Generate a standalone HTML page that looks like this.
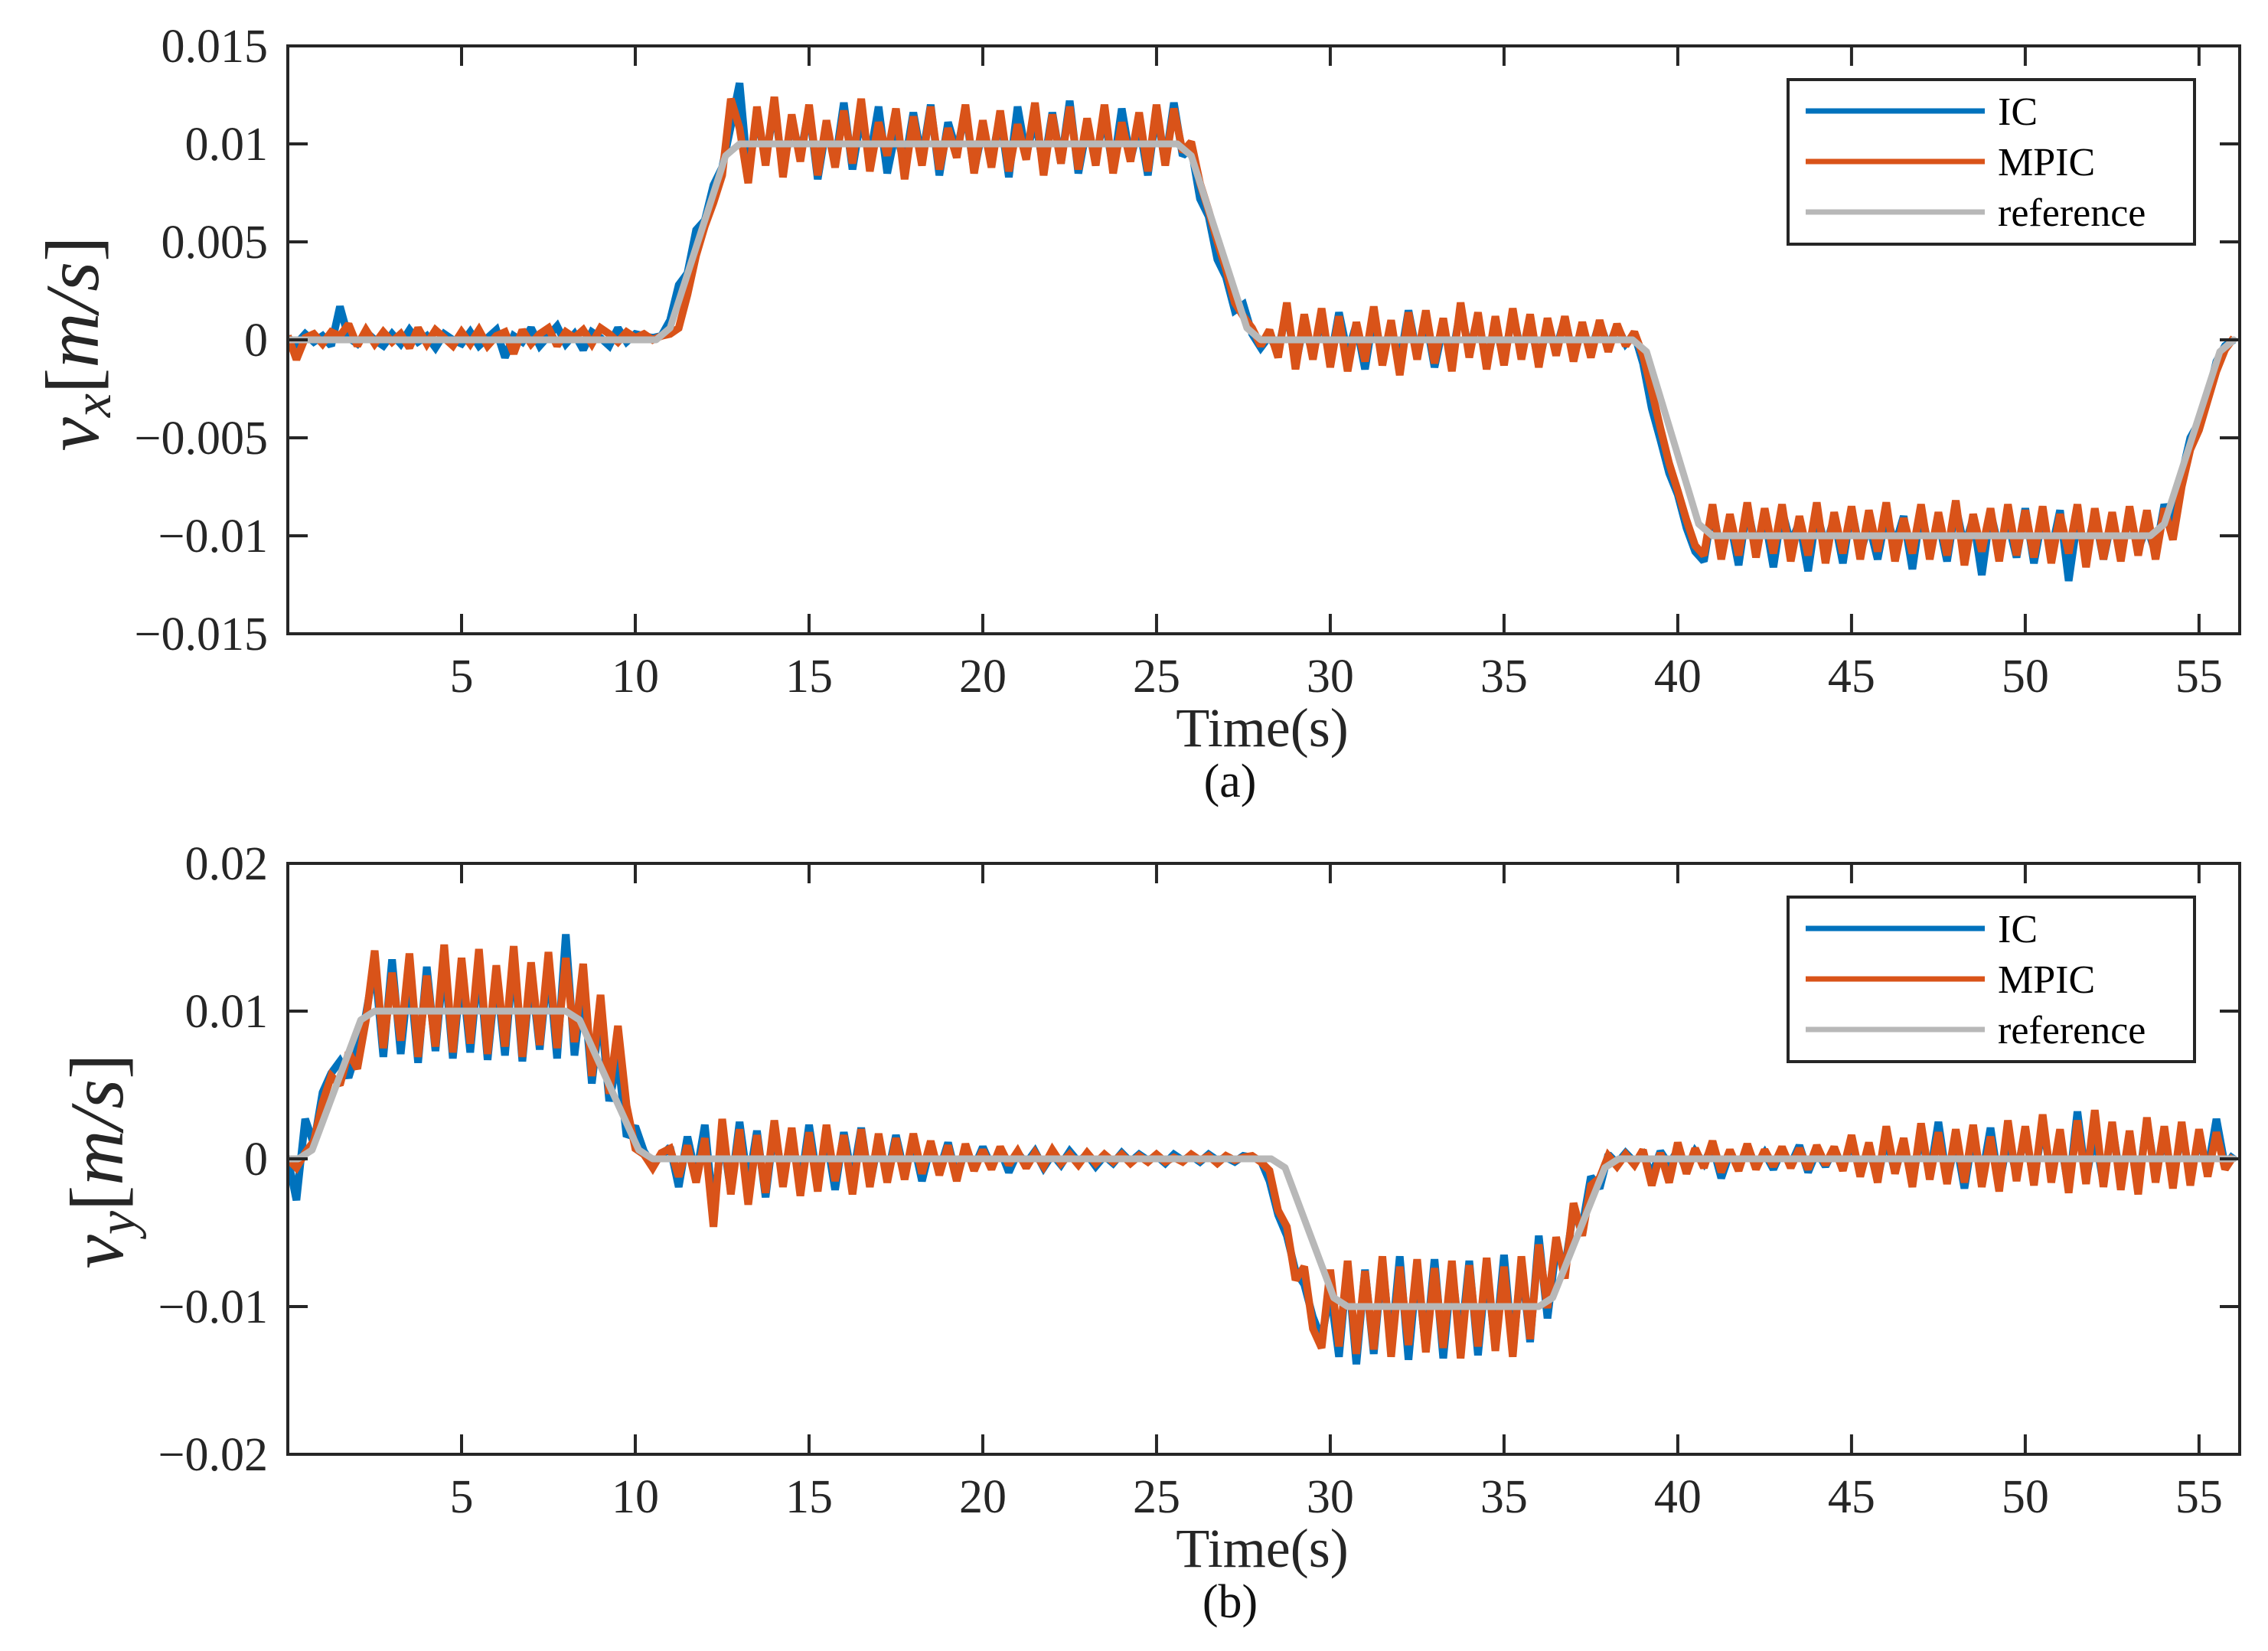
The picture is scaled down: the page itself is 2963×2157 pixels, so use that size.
<!DOCTYPE html>
<html><head><meta charset="utf-8"><style>
html,body{margin:0;padding:0;background:#fff;}
svg{display:block;font-family:"Liberation Serif",serif;}
</style></head><body>
<svg id="fig" width="2963" height="2157" viewBox="0 0 2963 2157" xmlns="http://www.w3.org/2000/svg"></svg>
<script>
// ---- data (velocities in units of 1e-3 m/s, sampled every 0.25 s) ----
const sampleDt = 0.25;
const xTickValues = [5,10,15,20,25,30,35,40,45,50,55];
const xTickLabels = ["5","10","15","20","25","30","35","40","45","50","55"];
const seriesNames = ["IC","MPIC","reference"];

const vxTickValues = [15,10,5,0,-5,-10,-15];
const vxTickLabels = ["0.015","0.01","0.005","0","\u22120.005","\u22120.01","\u22120.015"];
const vyTickValues = [20,10,0,-10,-20];
const vyTickLabels = ["0.02","0.01","0","\u22120.01","\u22120.02"];

const vxRefTimes = [0,10.6,11.0,12.6,13.0,25.6,26.0,27.6,28.0,38.7,39.1,40.6,41.0,53.6,54.0,55.6,56];
const vxRefValues = [0,0,0.6,9.4,10,10,9.4,0.6,0,0,-0.6,-9.4,-10,-10,-9.4,-0.6,0];
const vyRefTimes = [0,0.3,0.7,2.1,2.5,8.0,8.4,10.1,10.5,28.3,28.7,30.1,30.5,36.0,36.4,37.9,38.3,56];
const vyRefValues = [0,0,0.6,9.4,10,10,9.4,0.6,0,0,-0.6,-9.4,-10,-10,-9.4,-0.6,0,0];

const vxIC = [0.1,-0.2,0.3,-0.1,0.2,-0.3,1.7,0.1,-0.2,0.4,
0.0,-0.3,0.3,-0.2,0.5,-0.1,0.2,-0.4,0.3,0.0,
-0.2,0.4,-0.3,0.1,0.5,-0.9,0.2,-0.1,0.6,-0.3,
0.2,0.7,-0.2,0.3,-0.5,0.4,0.1,-0.3,0.6,-0.1,
0.3,0.2,0.1,0.2,1.0,2.8,3.4,5.6,6.1,7.9,
8.8,10.9,13.1,8.3,11.6,9.1,12.0,8.6,11.2,9.4,
11.8,8.2,10.9,9.0,12.1,8.7,11.4,9.3,11.9,8.5,
10.7,8.9,11.6,9.2,12.0,8.4,11.1,9.6,11.7,8.6,
10.8,9.1,11.5,8.3,11.9,9.4,11.3,8.8,11.6,9.0,
12.2,8.5,10.9,9.3,11.4,8.7,11.8,9.2,11.0,8.4,
11.7,9.0,12.1,9.4,9.8,7.2,6.3,4.1,3.2,1.5,
1.8,0.3,-0.4,0.2,-0.6,1.6,-1.3,0.9,-0.8,1.2,
-1.1,1.4,-0.7,0.8,-1.5,1.3,-0.9,0.6,-1.2,1.5,
-0.8,1.1,-1.4,0.7,-1.0,1.6,-0.6,1.2,-1.3,0.9,
-1.1,1.4,-0.7,1.0,-1.2,0.8,-0.5,1.1,-0.9,0.6,
-0.6,0.9,-0.4,0.7,-0.2,0.3,-1.2,-3.5,-5.1,-6.8,
-7.9,-9.6,-10.8,-11.3,-8.6,-10.9,-9.2,-11.5,-8.5,-10.7,
-9.0,-11.6,-8.7,-10.4,-9.3,-11.8,-8.8,-10.6,-9.1,-11.4,
-8.6,-10.9,-9.4,-11.2,-8.9,-10.5,-9.0,-11.7,-8.7,-10.8,
-9.2,-11.3,-8.5,-10.6,-9.1,-12.0,-8.8,-10.7,-9.3,-11.1,
-8.6,-11.4,-9.0,-10.8,-8.7,-12.3,-9.2,-10.9,-8.9,-11.2,
-9.1,-11.0,-8.8,-10.7,-9.5,-10.9,-8.4,-9.6,-6.9,-5.0,
-4.2,-2.9,-1.1,-0.3,0.0];
const vxMPIC = [0.2,-1.0,0.1,0.3,-0.2,0.4,0.2,0.8,-0.3,0.5,
-0.2,0.4,-0.1,0.3,-0.4,0.6,-0.2,0.5,0.1,-0.3,
0.4,-0.2,0.5,-0.3,0.2,0.4,-0.7,0.5,-0.2,0.3,
0.6,-0.3,0.4,0.1,0.5,-0.2,0.6,0.3,-0.1,0.4,
0.1,0.3,0.0,0.2,0.3,0.6,2.3,4.3,5.8,7.0,
8.4,12.3,10.8,8.0,11.9,8.9,12.4,8.3,11.5,9.1,
12.0,8.4,11.2,8.8,11.7,9.0,12.3,8.6,11.1,9.4,
11.8,8.2,11.4,8.9,11.9,8.7,10.8,9.3,12.0,8.5,
11.2,8.8,11.7,8.6,11.0,9.2,12.1,8.4,11.5,9.0,
11.9,8.7,11.3,8.9,12.0,8.5,11.1,9.1,11.6,8.6,
12.0,8.9,11.8,9.6,10.1,8.0,6.6,5.0,3.6,1.9,
1.2,0.6,-0.3,0.5,-0.9,1.9,-1.5,1.3,-1.0,1.6,
-1.4,1.2,-1.6,0.9,-1.1,1.7,-1.3,1.0,-1.8,1.4,
-1.0,1.5,-1.2,1.1,-1.6,1.9,-0.9,1.4,-1.5,1.2,
-1.3,1.6,-1.0,1.3,-1.4,1.1,-0.8,1.2,-1.1,0.9,
-0.9,1.0,-0.6,0.8,-0.3,0.4,-0.8,-2.6,-4.5,-6.3,
-7.7,-9.2,-10.5,-11.0,-8.4,-11.2,-8.9,-11.0,-8.3,-11.1,
-8.6,-10.9,-8.4,-11.3,-9.0,-11.0,-8.3,-11.4,-8.8,-10.9,
-8.5,-11.2,-8.7,-10.8,-8.3,-11.3,-9.1,-10.9,-8.4,-11.2,
-8.8,-11.0,-8.2,-11.5,-8.9,-10.8,-8.6,-11.3,-8.4,-11.0,
-8.7,-11.1,-8.5,-11.4,-8.9,-10.9,-8.4,-11.6,-8.6,-11.2,
-8.8,-11.3,-8.5,-11.0,-8.7,-11.2,-8.6,-10.2,-7.5,-5.6,
-4.6,-3.1,-1.6,-0.5,0.1];
const vyIC = [0.0,-2.8,2.7,1.0,4.5,5.8,6.6,5.5,7.4,9.8,
13.2,6.9,13.5,7.1,12.8,6.5,13.0,7.3,13.6,6.8,
12.9,7.2,13.4,6.7,12.6,7.0,13.8,6.6,12.7,7.4,
13.3,6.8,15.2,7.0,12.0,5.1,10.2,3.9,6.8,1.5,
2.2,0.5,-0.4,0.2,0.8,-1.9,1.5,-1.2,2.3,-3.6,
1.8,-2.2,2.5,-1.8,1.9,-2.6,2.2,-1.5,1.7,-2.0,
2.3,-1.6,1.5,-2.1,1.8,-1.4,2.1,-1.8,1.3,-1.2,
1.6,-1.0,1.2,-1.5,0.9,-0.8,1.1,-1.3,0.7,-0.6,
0.8,-0.5,0.6,-0.9,0.4,-0.3,0.5,-0.6,0.3,-0.4,
0.5,-0.2,0.3,-0.5,0.2,-0.3,0.4,-0.2,0.3,-0.1,
0.2,-0.3,0.3,-0.1,0.2,-0.2,0.3,-0.1,0.1,-0.2,
0.2,0.1,-0.1,-1.5,-3.8,-5.2,-7.6,-8.5,-10.7,-12.2,
-8.9,-13.4,-7.1,-13.9,-7.5,-13.2,-7.0,-12.8,-6.6,-13.6,
-7.3,-12.9,-6.8,-13.5,-7.4,-12.6,-6.9,-13.3,-7.2,-12.8,
-6.5,-13.1,-7.0,-12.4,-5.2,-10.8,-6.0,-7.4,-3.5,-4.6,
-1.2,-2.0,0.3,-0.3,0.4,-0.2,0.3,-1.1,0.5,-0.4,
0.6,-0.8,0.5,-0.3,0.9,-1.3,0.4,-0.6,0.8,-0.5,
0.4,-0.7,0.6,-0.4,0.9,-0.9,0.5,-0.5,0.7,-0.6,
1.2,-1.0,0.8,-1.4,1.5,-0.9,1.1,-1.6,1.8,-1.2,
2.5,-1.5,1.3,-2.0,1.7,-1.3,2.1,-1.8,1.4,-1.1,
1.9,-1.6,2.4,-1.2,1.6,-2.1,3.2,-1.4,1.8,-1.7,
2.2,-1.5,1.4,-1.9,2.6,-1.2,1.7,-1.6,2.0,-1.3,
1.5,-0.8,2.7,-0.5,0.3];
const vyMPIC = [0.0,-0.6,0.4,1.2,3.8,5.6,5.0,7.2,6.1,9.4,
14.1,7.5,12.6,8.0,13.9,6.9,12.4,7.6,14.5,7.2,
13.6,7.8,14.2,7.1,13.1,7.6,14.4,6.9,13.3,7.7,
14.0,7.5,13.6,7.9,13.2,5.6,11.1,4.4,9.0,3.6,
0.7,0.3,-0.6,0.4,0.7,-1.2,0.9,-1.6,1.4,-4.6,
2.7,-2.4,2.0,-3.1,1.6,-2.3,2.6,-1.9,2.1,-2.5,
1.8,-2.2,2.3,-1.5,1.6,-2.4,2.0,-1.9,1.7,-1.6,
1.4,-1.4,1.7,-1.0,1.2,-1.1,0.9,-1.5,1.0,-0.8,
0.6,-0.7,0.8,-0.4,0.5,-0.6,0.4,-0.5,0.6,-0.3,
0.3,-0.4,0.4,-0.3,0.3,-0.2,0.3,-0.3,0.2,-0.2,
0.3,-0.2,0.1,-0.2,0.3,-0.1,0.2,-0.3,0.2,-0.1,
0.1,0.2,-0.2,-0.8,-3.5,-4.6,-8.2,-7.3,-11.5,-12.8,
-7.5,-12.7,-6.9,-13.2,-7.6,-12.9,-6.6,-13.4,-7.3,-12.6,
-6.8,-13.1,-7.4,-12.8,-6.9,-13.5,-7.2,-12.7,-6.7,-13.0,
-7.3,-13.4,-6.6,-12.2,-5.8,-10.1,-5.3,-8.1,-3.0,-5.2,
-1.8,-1.3,0.2,-0.5,0.3,-0.4,0.6,-1.8,0.4,-1.6,
1.1,-1.0,0.7,-0.6,1.2,-0.9,0.6,-0.8,1.0,-0.7,
0.6,-0.5,0.8,-0.6,0.7,-0.7,0.9,-0.4,0.8,-0.8,
1.6,-1.2,1.1,-1.6,2.2,-1.0,1.4,-1.9,2.4,-1.4,
1.8,-1.7,2.0,-1.6,2.3,-1.9,1.5,-2.2,2.6,-1.5,
2.2,-1.8,3.0,-1.6,2.0,-2.3,2.6,-1.7,3.3,-1.9,
2.5,-2.1,1.9,-2.4,2.8,-1.6,2.2,-2.0,2.5,-1.8,
2.0,-1.2,1.8,-0.7,0.2];

// ---- drawing ----
const NS = "http://www.w3.org/2000/svg";
const svg = document.getElementById("fig");
const AX = "#262626", BLUE = "#0072BD", ORANGE = "#D95319", GRAY = "#B8B8B8";
const X0 = 376, X1 = 2926, XMAX = 56.17;

function mk(tag, attrs, parent) {
  const e = document.createElementNS(NS, tag);
  for (const k in attrs) e.setAttribute(k, attrs[k]);
  (parent || svg).appendChild(e);
  return e;
}
function xScale(t) { return X0 + (t / XMAX) * (X1 - X0); }

function panel(cfg) {
  const g = mk("g", {});
  
  
  const yScale = v => cfg.top + (cfg.ymax - v) / (cfg.ymax - cfg.ymin) * (cfg.bottom - cfg.top);
  const clipId = cfg.name + "-clip";
  const cp = mk("clipPath", {id: clipId}, g);
  mk("rect", {x: X0, y: cfg.top, width: X1 - X0, height: cfg.bottom - cfg.top}, cp);
  const plot = mk("g", {"clip-path": "url(#" + clipId + ")"}, g);
  
  

  function sampled(arr, color, w, nm) {
    const pts = arr.map((v, i) => xScale(i * sampleDt).toFixed(1) + "," + yScale(v).toFixed(1)).join(" ");
    const pl = mk("polyline", {points: pts, fill: "none", stroke: color, "stroke-width": w, "stroke-linejoin": "miter", "stroke-miterlimit": 2}, plot);
    
    
  }
  sampled(cfg.ic, BLUE, 10, "ic-line");
  sampled(cfg.mpic, ORANGE, 10, "mpic-line");
  const rp = cfg.refT.map((t, i) => xScale(t).toFixed(1) + "," + yScale(cfg.refV[i]).toFixed(1)).join(" ");
  const rl = mk("polyline", {points: rp, fill: "none", stroke: GRAY, "stroke-width": 9, "stroke-linejoin": "round", "stroke-linecap": "round"}, plot);
  
  

  const box = mk("rect", {x: X0, y: cfg.top, width: X1 - X0, height: cfg.bottom - cfg.top, fill: "none", stroke: AX, "stroke-width": 4}, g);
  
  
  xTickValues.forEach((t, i) => {
    const x = xScale(t);
    mk("line", {x1: x, y1: cfg.bottom, x2: x, y2: cfg.bottom - 26, stroke: AX, "stroke-width": 4}, g);
    mk("line", {x1: x, y1: cfg.top, x2: x, y2: cfg.top + 26, stroke: AX, "stroke-width": 4}, g);
    const tx = mk("text", {x: x, y: cfg.bottom + 76, "text-anchor": "middle", "font-size": 62, fill: AX}, g);
    tx.textContent = xTickLabels[i];
    
    
  });
  cfg.yTicks.forEach((v, i) => {
    const y = yScale(v);
    mk("line", {x1: X0, y1: y, x2: X0 + 26, y2: y, stroke: AX, "stroke-width": 4}, g);
    mk("line", {x1: X1, y1: y, x2: X1 - 26, y2: y, stroke: AX, "stroke-width": 4}, g);
    const tx = mk("text", {x: 350, y: y + 21, "text-anchor": "end", "font-size": 62, fill: AX}, g);
    tx.textContent = cfg.yLabels[i];
    
    
  });
  const yt = mk("text", {transform: "translate(" + (cfg.ylx + 32) + "," + cfg.yly + ") rotate(-90)", "text-anchor": "middle", "font-size": 100, fill: AX}, g);
  
  
  const t1 = mk("tspan", {"font-style": "italic"}, yt); t1.textContent = "v";
  const t2 = mk("tspan", {"font-style": "italic", "font-size": 70, dy: 16}, yt); t2.textContent = cfg.sub;
  const t3 = mk("tspan", {dy: -16}, yt); t3.textContent = "[";
  const t4 = mk("tspan", {"font-style": "italic"}, yt); t4.textContent = "m/s";
  const t5 = mk("tspan", {}, yt); t5.textContent = "]";
  const xt = mk("text", {x: 1649, y: cfg.bottom + 147, "text-anchor": "middle", "font-size": 72, fill: AX}, g);
  xt.textContent = "Time(s)";
  
  
  const cap = mk("text", {x: 1607, y: cfg.bottom + 213, "text-anchor": "middle", "font-size": 62, fill: "#111"}, g);
  cap.textContent = cfg.caption;
  
  

  const lg = mk("g", {}, g);
  
  
  const lt = cfg.top + 44;
  mk("rect", {x: 2336, y: lt, width: 531, height: 215, fill: "#fff", stroke: AX, "stroke-width": 4}, lg);
  const colors = [BLUE, ORANGE, GRAY];
  const offs = [41, 107, 173];
  seriesNames.forEach((nm, i) => {
    const y = lt + offs[i];
    const ln = mk("line", {x1: 2359, y1: y, x2: 2593, y2: y, stroke: colors[i], "stroke-width": 7}, lg);
    
    
    const tx = mk("text", {x: 2610, y: y + 18, "font-size": 52, fill: "#000"}, lg);
    tx.textContent = nm;
    
    
  });
}

panel({name: "vx-panel", top: 60, bottom: 828, ymax: 15, ymin: -15, yTicks: vxTickValues, yLabels: vxTickLabels,
  ic: vxIC, mpic: vxMPIC, refT: vxRefTimes, refV: vxRefValues, sub: "x", ylx: 96, yly: 449, caption: "(a)"});
panel({name: "vy-panel", top: 1128, bottom: 1900, ymax: 20, ymin: -20, yTicks: vyTickValues, yLabels: vyTickLabels,
  ic: vyIC, mpic: vyMPIC, refT: vyRefTimes, refV: vyRefValues, sub: "y", ylx: 128, yly: 1517, caption: "(b)"});
</script>
</body></html>
